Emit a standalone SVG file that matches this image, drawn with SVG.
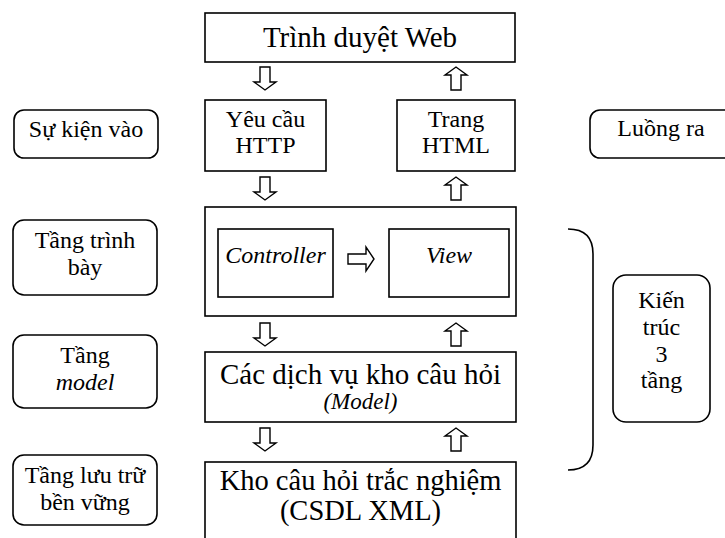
<svg xmlns="http://www.w3.org/2000/svg" width="725" height="538" viewBox="0 0 725 538">
<style>
.box{fill:#fff;stroke:#000;stroke-width:1.6}
.rbox{fill:#fff;stroke:#000;stroke-width:1.6}
.arr{fill:#fff;stroke:#000;stroke-width:1.4;stroke-linejoin:miter}
.t{font-family:'Liberation Serif','Times New Roman',serif;fill:#000;text-anchor:middle}
.big{font-size:29px}
.sm{font-size:24px}
.it{font-style:italic}
</style>
<defs>
<path id="down" d="M-5,0 H5 V15 H11 L0,23 L-11,15 H-5 Z"/>
<path id="up" d="M-5,23 H5 V8 H11 L0,0 L-11,8 H-5 Z"/>
</defs>
<rect width="725" height="538" fill="#fff"/>
<g font-family="Liberation Serif, Times New Roman, serif">
<g id="browser">
<rect class="box" x="205" y="13" width="310" height="49"/>
<text class="t big" x="360" y="47">Trình duyệt Web</text>
</g>
<g id="http-request">
<rect class="box" x="205" y="100" width="121" height="71"/>
<text class="t sm" x="265.5" y="127">Yêu cầu</text>
<text class="t sm" x="265.5" y="153">HTTP</text>
</g>
<g id="html-page">
<rect class="box" x="397" y="100" width="118" height="71"/>
<text class="t sm" x="456" y="127">Trang</text>
<text class="t sm" x="456" y="153">HTML</text>
</g>
<g id="presentation">
<rect class="box" x="205" y="207" width="311" height="109"/>
</g>
<g id="controller">
<rect class="box" x="218" y="229" width="115" height="68"/>
<text class="t sm it" x="275.5" y="263">Controller</text>
</g>
<g id="view">
<rect class="box" x="389" y="229" width="120" height="68"/>
<text class="t sm it" x="449" y="263">View</text>
</g>
<g id="model">
<rect class="box" x="205" y="352" width="311" height="70"/>
<text class="t big" x="360.5" y="384">Các dịch vụ kho câu hỏi</text>
<text class="t it" x="360.5" y="409" font-size="23">(Model)</text>
</g>
<g id="store">
<rect class="box" x="205" y="462" width="311" height="90"/>
<text class="t" x="360.5" y="490" font-size="28.5">Kho câu hỏi trắc nghiệm</text>
<text class="t" x="360.5" y="520" font-size="28.5">(CSDL XML)</text>
</g>

<g id="label-events">
<rect class="rbox" x="14" y="110" width="144" height="48" rx="10"/>
<text class="t sm" x="86" y="137">Sự kiện vào</text>
</g>
<g id="label-presentation">
<rect class="rbox" x="13" y="220" width="144" height="75" rx="11"/>
<text class="t sm" x="85" y="248">Tầng trình</text>
<text class="t sm" x="85" y="275">bày</text>
</g>
<g id="label-model">
<rect class="rbox" x="13" y="335" width="144" height="73" rx="11"/>
<text class="t sm" x="85" y="363">Tầng</text>
<text class="t sm it" x="85" y="390">model</text>
</g>
<g id="label-storage">
<rect class="rbox" x="13" y="455" width="144" height="70" rx="11"/>
<text class="t sm" x="85" y="483">Tầng lưu trữ</text>
<text class="t sm" x="85" y="510">bền vững</text>
</g>
<g id="label-output">
<rect class="rbox" x="590" y="110" width="145" height="48" rx="10"/>
<text class="t sm" x="661" y="136">Luồng ra</text>
</g>
<g id="label-3tier">
<rect class="rbox" x="613" y="275" width="97" height="147" rx="13"/>
<text class="t sm" x="661.5" y="308">Kiến</text>
<text class="t sm" x="661.5" y="335">trúc</text>
<text class="t sm" x="661.5" y="362">3</text>
<text class="t sm" x="661.5" y="388">tầng</text>
</g>
</g>
<g id="connectors">
<use href="#down" class="arr" x="265" y="67"/>
<use href="#up" class="arr" x="456" y="67"/>
<use href="#down" class="arr" x="265" y="177"/>
<use href="#up" class="arr" x="456" y="177"/>
<use href="#down" class="arr" x="265" y="323"/>
<use href="#up" class="arr" x="456" y="323"/>
<use href="#down" class="arr" x="265" y="428"/>
<use href="#up" class="arr" x="456" y="428"/>
<path class="arr" d="M348,254 H366 V247 L374,259 L366,271 V264 H348 Z"/>
<path d="M568,229 Q593,229 593,254 V445 Q593,470 568,470" fill="none" stroke="#000" stroke-width="1.6"/>
</g>
</svg>
